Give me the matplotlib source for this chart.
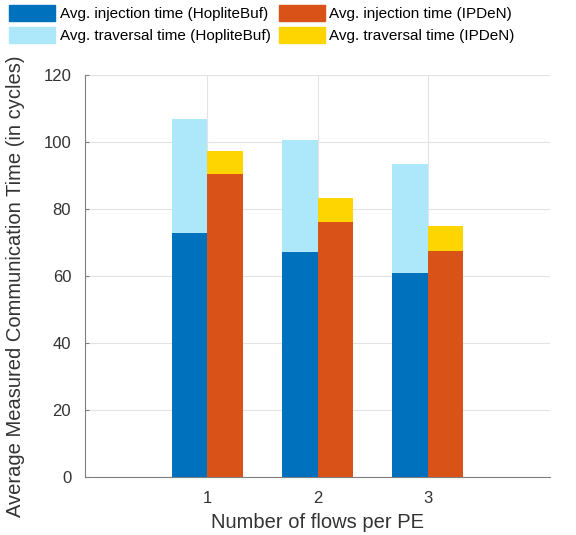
import numpy as np
import matplotlib.pyplot as plt
from matplotlib.patches import Patch

plt.rcParams['font.family'] = ['Liberation Sans', 'DejaVu Sans']

flows = [1, 2, 3]
inj_hoplite = [72.7, 67.1, 61.0]
trav_hoplite = [34.2, 33.5, 32.3]
inj_ipden = [90.4, 76.0, 67.6]
trav_ipden = [7.0, 7.4, 7.2]

c_inj_h = '#0072BD'
c_trav_h = '#ADE8FA'
c_inj_i = '#D95319'
c_trav_i = '#FFD500'

fig = plt.figure(figsize=(5.76, 5.35), dpi=100)
ax = fig.add_axes([0.1476, 0.1084, 0.8074, 0.7514])

x = np.array(flows)
w = 0.32
ax.bar(x - w / 2, inj_hoplite, w, color=c_inj_h, zorder=3)
ax.bar(x - w / 2, trav_hoplite, w, bottom=inj_hoplite, color=c_trav_h, zorder=3)
ax.bar(x + w / 2, inj_ipden, w, color=c_inj_i, zorder=3)
ax.bar(x + w / 2, trav_ipden, w, bottom=inj_ipden, color=c_trav_i, zorder=3)

ax.set_xlim(-0.11, 4.11)
ax.set_ylim(0, 120)
ax.set_xticks(flows)
ax.set_yticks(np.arange(0, 121, 20))
ax.grid(True, color='#e3e3e3', linewidth=0.8, zorder=0)
for s in ['top', 'right']:
    ax.spines[s].set_visible(False)
for s in ['left', 'bottom']:
    ax.spines[s].set_color('#7f7f7f')
ax.tick_params(colors='#7f7f7f', labelcolor='#333333', labelsize=12,
               direction='in', length=3, pad=10)
ax.set_xlabel('Number of flows per PE', fontsize=14.5, color='#333333', labelpad=5)
ax.set_ylabel('Average Measured Communication Time (in cycles)', fontsize=14.5,
              color='#333333')
ax.yaxis.set_label_coords(-0.13, 0.475)

handles = [Patch(color=c_inj_h), Patch(color=c_trav_h), Patch(color=c_inj_i), Patch(color=c_trav_i)]
labels = ['Avg. injection time (HopliteBuf)', 'Avg. traversal time (HopliteBuf)',
          'Avg. injection time (IPDeN)', 'Avg. traversal time (IPDeN)']
fig.legend(handles, labels, ncol=2, loc='upper left', bbox_to_anchor=(-0.005, 1.013),
           frameon=False, fontsize=11, handlelength=3.0, handleheight=1.25,
           handletextpad=0.3, columnspacing=0.55, labelspacing=0.35, borderpad=0.3)

fig.savefig('out.png', dpi=100)
